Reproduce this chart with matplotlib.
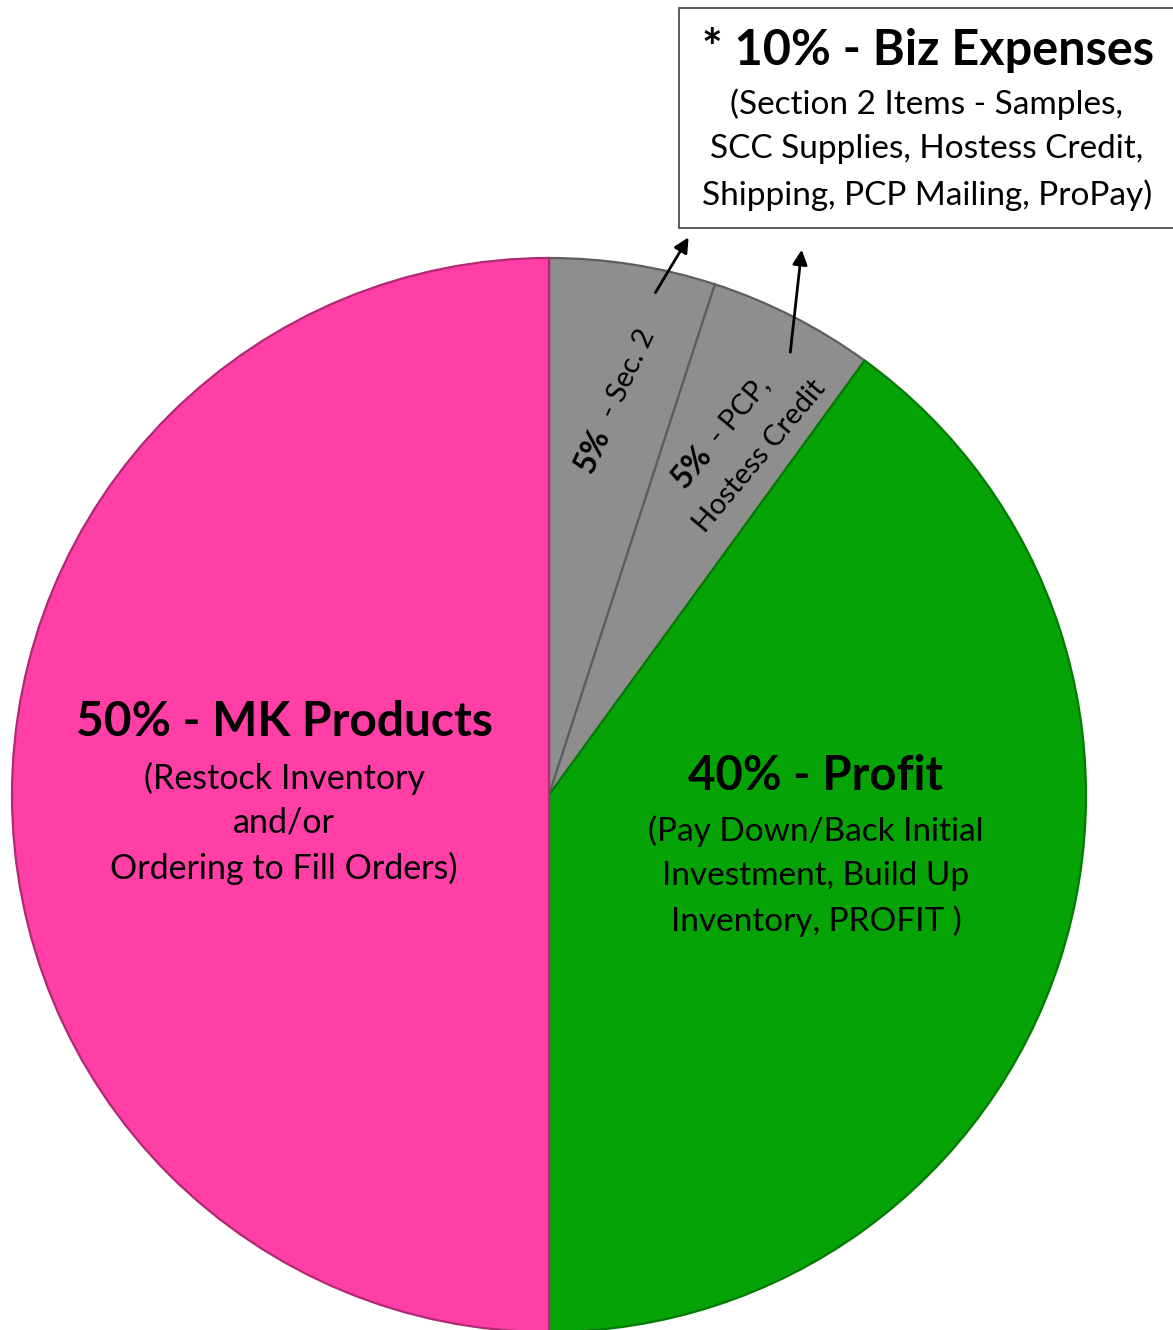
import matplotlib.pyplot as plt
from matplotlib.patches import Rectangle

# slice data, clockwise from 12 o'clock
shares = [5, 5, 40, 50]
slice_names = ["Sec. 2", "PCP, Hostess Credit", "Profit", "MK Products"]
fills = ["#8e8e8e", "#8e8e8e", "#05a305", "#ff3ea6"]
edges = ["#5e5e5e", "#5e5e5e", "#037a03", "#b02a73"]

mk_title = "50% - MK Products"
mk_lines = ["(Restock Inventory", "and/or", "Ordering to Fill Orders)"]
profit_title = "40% - Profit"
profit_lines = ["(Pay Down/Back Initial", "Investment, Build Up", "Inventory, PROFIT )"]
box_title = "* 10% - Biz Expenses"
box_lines = ["(Section 2 Items - Samples,", "SCC Supplies, Hostess Credit,", "Shipping, PCP Mailing, ProPay)"]

W, H = 1173, 1330
FONT = "Lato"

fig = plt.figure(figsize=(W / 100, H / 100), dpi=100)
ax = fig.add_axes([0, 0, 1, 1])
ax.set_xlim(0, W)
ax.set_ylim(0, H)
ax.set_aspect("equal")
ax.axis("off")


def py(y):
    # pixel row -> data y
    return H - y


wedges, _ = ax.pie(shares, startangle=90, counterclock=False, colors=fills,
                   center=(549, py(795)), radius=537,
                   wedgeprops=dict(linewidth=1.6))
for w, ec in zip(wedges, edges):
    w.set_edgecolor(ec)
ax.set_xlim(0, W)
ax.set_ylim(0, H)

# big labels
ax.text(284, py(722), mk_title, ha="center", va="center", fontsize=34.5,
        fontweight="bold", family=FONT)
for i, s in enumerate(mk_lines):
    ax.text(284, py(778 + 45 * i), s, ha="center", va="center", fontsize=24.5, family=FONT)

ax.text(816, py(776), profit_title, ha="center", va="center", fontsize=34,
        fontweight="bold", family=FONT)
for i, s in enumerate(profit_lines):
    ax.text(816, py(831 + 45 * i), s, ha="center", va="center", fontsize=24, family=FONT)

# rotated labels on the gray slices
ax.text(602, py(430), "5%", rotation=65, rotation_mode="anchor", ha="right",
        va="center", fontsize=23, fontweight="bold", family=FONT)
ax.text(605, py(424), " - " + slice_names[0], rotation=65, rotation_mode="anchor",
        ha="left", va="center", fontsize=21, family=FONT)

ax.text(706, py(450), "5%", rotation=50, rotation_mode="anchor", ha="right",
        va="center", fontsize=23, fontweight="bold", family=FONT)
ax.text(709, py(446), " - PCP,", rotation=50, rotation_mode="anchor",
        ha="left", va="center", fontsize=21, family=FONT)
ax.text(760, py(456), "Hostess Credit", rotation=50, rotation_mode="anchor",
        ha="center", va="center", fontsize=21, family=FONT)

# expenses box
ax.add_patch(Rectangle((679, py(228)), 520, 220, facecolor="white",
                       edgecolor="#404040", linewidth=1.2, clip_on=True))
ax.text(928, py(50), box_title, ha="center", va="center", fontsize=35,
        fontweight="bold", family=FONT)
for i, s in enumerate(box_lines):
    ax.text(927, py(104 + 45.5 * i), s, ha="center", va="center", fontsize=24, family=FONT)

# arrows to the box
arrow = dict(arrowstyle="-|>", color="black", lw=2, mutation_scale=22)
ax.annotate("", xy=(690, py(235)), xytext=(654, py(295)), arrowprops=arrow)
ax.annotate("", xy=(802, py(247)), xytext=(790, py(355)), arrowprops=arrow)

fig.savefig("out.png", dpi=100)
